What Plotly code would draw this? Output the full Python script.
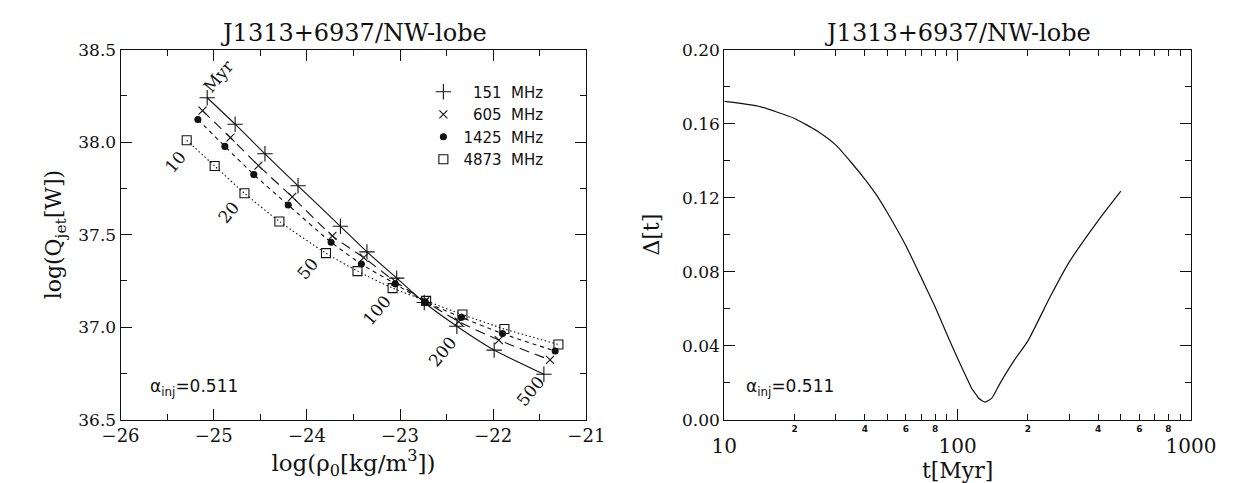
import plotly.graph_objects as go

# ---------------- data: left panel (log rho0 vs log Qjet) ----------------
freq_labels = ["\u2007151\u00a0\u00a0MHz", "\u2007605\u00a0\u00a0MHz", "1425\u00a0\u00a0MHz", "4873\u00a0\u00a0MHz"]

x151 = [-25.07, -24.77, -24.45, -24.095, -23.64, -23.355, -23.036, -22.74, -22.39, -21.99, -21.456]
y151 = [38.24, 38.097, 37.937, 37.764, 37.545, 37.407, 37.265, 37.133, 37.005, 36.876, 36.745]

x605 = [-25.12, -24.82, -24.52, -24.157, -23.726, -23.39, -23.05, -22.73, -22.37, -21.94, -21.39]
y605 = [38.17, 38.024, 37.873, 37.704, 37.493, 37.376, 37.246, 37.14, 37.03, 36.93, 36.823]

x1425 = [-25.17, -24.88, -24.57, -24.20, -23.74, -23.415, -23.053, -22.73, -22.34, -21.90, -21.335]
y1425 = [38.122, 37.977, 37.825, 37.66, 37.459, 37.341, 37.234, 37.137, 37.053, 36.965, 36.871]

x4873 = [-25.29, -24.99, -24.67, -24.295, -23.795, -23.457, -23.08, -22.72, -22.33, -21.88, -21.30]
y4873 = [38.01, 37.871, 37.724, 37.571, 37.40, 37.303, 37.211, 37.142, 37.068, 36.99, 36.906]

age_labels = ["Myr", "10", "20", "50", "100", "200", "500"]
age_lbl_x = [-24.95, -25.41, -24.835, -23.985, -23.243, -22.55, -21.60]
age_lbl_y = [38.36, 37.89, 37.62, 37.317, 37.09, 36.868, 36.656]

# ---------------- data: right panel (Delta[t]) ----------------
t_myr = [10, 14, 20, 25, 30, 35, 40, 45, 50, 60, 70, 80, 90, 100, 110, 115, 120, 123, 131,
         140, 150, 160, 175, 200, 250, 300, 400, 500]
delta = [0.172, 0.1694, 0.1628, 0.156, 0.1485, 0.139, 0.130, 0.1212, 0.1118, 0.094, 0.0765,
         0.061, 0.046, 0.033, 0.0219, 0.0167, 0.0136, 0.0116, 0.0095,
         0.0116, 0.0184, 0.0245, 0.0322, 0.0426, 0.0668, 0.085, 0.1076, 0.1235]

title_text = "J1313+6937/NW-lobe"
alpha_text = "\u03b1<sub>inj</sub>=0.511"

# ---------------- styling ----------------
SERIF = "DejaVu Serif"
SANS = "DejaVu Sans"
INK = "#111111"
W, H = 1237, 483
L1, R1 = 97 / W, 580 / W
L2, R2 = 723 / W, 1207 / W
YB, YT = 1 - 419 / H, 1 - 33 / H

fig = go.Figure()

series = [
    (x151, y151, "cross-thin-open", 11, "solid", freq_labels[0]),
    (x605, y605, "x-thin-open", 8, "10px,6px", freq_labels[1]),
    (x1425, y1425, "circle", 6, "4px,4px", freq_labels[2]),
    (x4873, y4873, "square-open", 9, "1.5px,2.5px", freq_labels[3]),
]
for xs, ys, sym, sz, dash, name in series:
    fig.add_trace(go.Scatter(x=xs, y=ys, mode="lines",
                             line=dict(color=INK, width=1.1, dash=dash, shape="spline", smoothing=0.6),
                             showlegend=False, hoverinfo="skip", xaxis="x", yaxis="y"))
for xs, ys, sym, sz, dash, name in series:
    fig.add_trace(go.Scatter(x=xs, y=ys, mode="markers", name=name,
                             marker=dict(symbol=sym, size=sz, color=INK, line=dict(color=INK, width=1.1)),
                             xaxis="x", yaxis="y"))

fig.add_trace(go.Scatter(x=t_myr, y=delta, mode="lines",
                         line=dict(color=INK, width=1.2, shape="spline", smoothing=0.5),
                         showlegend=False, xaxis="x2", yaxis="y2"))
# invisible trace that carries the overlay axis holding the small minor-digit labels
fig.add_trace(go.Scatter(x=[t_myr[0]], y=[delta[0]], mode="markers", marker=dict(opacity=0),
                         showlegend=False, hoverinfo="skip", xaxis="x3", yaxis="y2"))

axis_common = dict(showline=True, linecolor=INK, linewidth=1, mirror="ticks", ticks="inside",
                   tickcolor=INK, tickwidth=1, showgrid=False, zeroline=False)

fig.update_layout(
    width=W, height=H, plot_bgcolor="white", paper_bgcolor="white",
    margin=dict(l=0, r=0, t=0, b=0),
    font=dict(family=SERIF, color=INK),
    xaxis=dict(domain=[L1, R1], anchor="y", range=[-26, -21], tick0=-26, dtick=1, ticklen=11,
               minor=dict(dtick=0.5, ticklen=6, ticks="inside", tickcolor=INK),
               tickfont=dict(size=18, family=SERIF),
               title=dict(text="log(\u03c1<sub>0</sub>[kg/m<sup>3</sup>])", font=dict(size=23, family=SERIF), standoff=5),
               **axis_common),
    yaxis=dict(domain=[YB, YT], anchor="x", range=[36.5, 38.5], tick0=36.5, dtick=0.5, tickformat=".1f", ticklen=11,
               minor=dict(dtick=0.25, ticklen=6, ticks="inside", tickcolor=INK),
               tickfont=dict(size=17, family=SERIF),
               title=dict(text="log(Q<sub>jet</sub>[W])", font=dict(size=22, family=SERIF), standoff=10),
               **axis_common),
    xaxis2=dict(domain=[L2, R2], anchor="y2", type="log", range=[1, 3],
                tickvals=[10, 100, 1000], ticktext=["10", "100", "1000"], ticklen=11,
                ticklabelstandoff=8,
                minor=dict(tickvals=[20, 30, 40, 50, 60, 70, 80, 90, 200, 300, 400, 500, 600, 700, 800, 900],
                           ticklen=6, ticks="inside", tickcolor=INK),
                tickfont=dict(size=20, family=SERIF),
                title=dict(text="t[Myr]", font=dict(size=22, family=SERIF), standoff=0),
                **axis_common),
    xaxis3=dict(overlaying="x2", anchor="y2", type="log", range=[1, 3],
                tickvals=[20, 40, 60, 80, 200, 400, 600, 800], ticktext=["2", "4", "6", "8", "2", "4", "6", "8"],
                ticks="", showline=False, showgrid=False, zeroline=False,
                tickfont=dict(size=9, family=SANS, weight="bold"), ticklabelstandoff=2),
    yaxis2=dict(domain=[YB, YT], anchor="x2", range=[0, 0.2], tick0=0, dtick=0.04, tickformat=".2f", ticklen=11,
                minor=dict(dtick=0.02, ticklen=6, ticks="inside", tickcolor=INK),
                tickfont=dict(size=17, family=SERIF),
                title=dict(text="\u0394[t]", font=dict(size=22, family=SERIF), standoff=16),
                **axis_common),
    legend=dict(x=411 / W, y=1 - 60 / H, xanchor="left", yanchor="top", bgcolor="rgba(0,0,0,0)",
                font=dict(size=15, family=SANS), itemwidth=30, tracegroupgap=0),
    showlegend=True,
)

annots = []
for cx in [(L1 + R1) / 2, (L2 + R2) / 2]:
    annots.append(dict(text=title_text, xref="paper", yref="paper", x=cx, y=1 - 16 / H, showarrow=False,
                       font=dict(size=24, family=SERIF), xanchor="center", yanchor="middle"))
annots.append(dict(text=alpha_text, xref="x", yref="y", x=-25.71, y=36.676, showarrow=False,
                   xanchor="left", yanchor="middle", font=dict(size=17, family=SANS)))
annots.append(dict(text=alpha_text, xref="x2", yref="y2", x=1.083, y=0.0176, showarrow=False,
                   xanchor="left", yanchor="middle", font=dict(size=17, family=SANS)))
for txt, ax_, ay_ in zip(age_labels, age_lbl_x, age_lbl_y):
    annots.append(dict(text=txt, xref="x", yref="y", x=ax_, y=ay_, showarrow=False, textangle=-50,
                       xanchor="center", yanchor="middle", font=dict(size=17, family=SERIF)))
fig.update_layout(annotations=annots)

fig.write_html("out.html")
